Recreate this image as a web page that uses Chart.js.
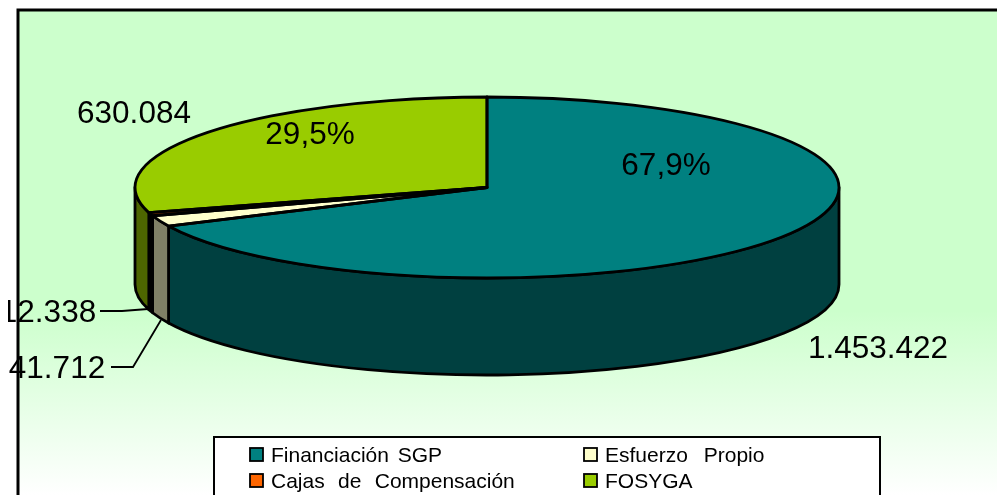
<!DOCTYPE html>
<html><head><meta charset="utf-8">
<style>html,body{margin:0;padding:0;background:#fff;overflow:hidden}canvas{display:block}</style>
<script src="https://cdn.jsdelivr.net/npm/chart.js@4"></script>
</head><body><canvas id="c" width="997" height="495"></canvas>
<script>
const categories = ['Financiación SGP','Esfuerzo Propio','Cajas de Compensación','FOSYGA'];
const values = [1453422,41712,12338,630084];
const valueLabels = ['1.453.422','41.712','12.338','630.084'];
const percentLabels = ['67,9%',null,null,'29,5%'];
const topColors = ['#008080','#FFFFCC','#FF6600','#99CC00'];
const wallColors = ['#004040','#808066','#000000','#4D6600'];

const PIE = {cx:487,cy:187.5,rx:352,ry:90.5,depth:97};
const FONT = '"Liberation Sans", Arial, sans-serif';
const valuePos = [{x:878,y:349},{x:57,y:369},{x:48,y:313},{x:134,y:114}];
const pctPos = [{x:666,y:166},null,null,{x:310,y:135}];
const leaders = [null,[[111,367],[133,367],[161,320]],[[100,311],[122,311],[148,309]],null];
const legendPos = [{x:250,y:454,gap:3},{x:584,y:454,gap:10},{x:250,y:480,gap:7.5},{x:584,y:480,gap:0}];

function ell(ctx,a0,a1,dy,ccw){ctx.ellipse(PIE.cx,PIE.cy+(dy||0),PIE.rx,PIE.ry,0,a0,a1,!!ccw);}
function props(a){return a.getProps(['x','y','startAngle','endAngle','outerRadius'],true);}

const pie3d = {
  id:'pie3d',
  beforeDraw(chart){
    const ctx=chart.ctx;
    ctx.save();
    ctx.fillStyle='#fff';ctx.fillRect(0,0,997,495);
    const g=ctx.createLinearGradient(0,10,0,495);
    g.addColorStop(0,'#CCFFCC');g.addColorStop(0.62,'#CCFFCC');g.addColorStop(1,'#FFFFFF');
    ctx.fillStyle=g;ctx.fillRect(18,10,979,485);
    ctx.strokeStyle='#000';ctx.lineWidth=3;
    ctx.beginPath();ctx.moveTo(18,497);ctx.lineTo(18,10);ctx.lineTo(999,10);ctx.stroke();
    ctx.restore();
  },
  beforeDatasetDraw(chart){
    const ctx=chart.ctx, arcs=chart.getDatasetMeta(0).data;
    ctx.save();
    ctx.lineWidth=2.8;ctx.strokeStyle='#000';ctx.lineJoin='round';
    arcs.forEach((arc,i)=>{
      const p=props(arc);
      const lo=Math.max(p.startAngle,0),hi=Math.min(p.endAngle,Math.PI);
      if(hi<=lo)return;
      ctx.beginPath();
      ell(ctx,lo,hi,0,false);
      ell(ctx,hi,lo,PIE.depth,true);
      ctx.closePath();
      ctx.fillStyle=wallColors[i];ctx.fill();ctx.stroke();
    });
    ctx.restore();
    const p=props(arcs[0]);
    ctx.save();
    ctx.translate(PIE.cx,PIE.cy);
    ctx.scale(PIE.rx/p.outerRadius,PIE.ry/p.outerRadius);
    ctx.translate(-p.x,-p.y);
  },
  afterDatasetDraw(chart){
    const ctx=chart.ctx, arcs=chart.getDatasetMeta(0).data;
    ctx.restore();
    ctx.save();
    ctx.lineWidth=2.8;ctx.strokeStyle='#000';ctx.lineJoin='round';
    arcs.forEach(arc=>{
      const p=props(arc);
      ctx.beginPath();
      ctx.moveTo(PIE.cx,PIE.cy);
      ell(ctx,p.startAngle,p.endAngle,0,false);
      ctx.closePath();ctx.stroke();
    });
    ctx.restore();
  },
  afterDraw(chart){
    const ctx=chart.ctx;
    ctx.save();
    ctx.strokeStyle='#000';ctx.lineWidth=1.8;
    leaders.forEach(l=>{if(!l)return;ctx.beginPath();l.forEach((q,i)=>i?ctx.lineTo(q[0],q[1]):ctx.moveTo(q[0],q[1]));ctx.stroke();});
    ctx.fillStyle='#000';ctx.textAlign='center';ctx.textBaseline='middle';
    ctx.font='31.5px '+FONT;
    valueLabels.forEach((t,i)=>{
      ctx.save();
      ctx.beginPath();ctx.rect(8,0,989,495);ctx.clip();
      ctx.fillText(t,valuePos[i].x,valuePos[i].y);
      ctx.restore();
    });
    percentLabels.forEach((t,i)=>{if(t)ctx.fillText(t,pctPos[i].x,pctPos[i].y);});
    ctx.fillStyle='#fff';ctx.fillRect(214,437,666,60);
    ctx.strokeStyle='#000';ctx.lineWidth=2;ctx.strokeRect(214,437,666,62);
    ctx.font='21px '+FONT;ctx.textAlign='left';ctx.textBaseline='alphabetic';
    categories.forEach((t,i)=>{
      const q=legendPos[i];
      ctx.fillStyle=topColors[i];ctx.lineWidth=1.8;
      ctx.fillRect(q.x,q.y-6,13,13);ctx.strokeRect(q.x,q.y-6,13,13);
      ctx.fillStyle='#000';
      if('wordSpacing' in ctx)ctx.wordSpacing=q.gap+'px';
      ctx.fillText(t,q.x+21,q.y+8);
    });
    ctx.restore();
  }
};

new Chart(document.getElementById('c'),{
  type:'pie',
  data:{labels:categories,datasets:[{data:values,backgroundColor:topColors,borderWidth:0}]},
  options:{responsive:false,animation:false,
    plugins:{legend:{display:false},tooltip:{enabled:false}}},
  plugins:[pie3d]
});
</script></body></html>
